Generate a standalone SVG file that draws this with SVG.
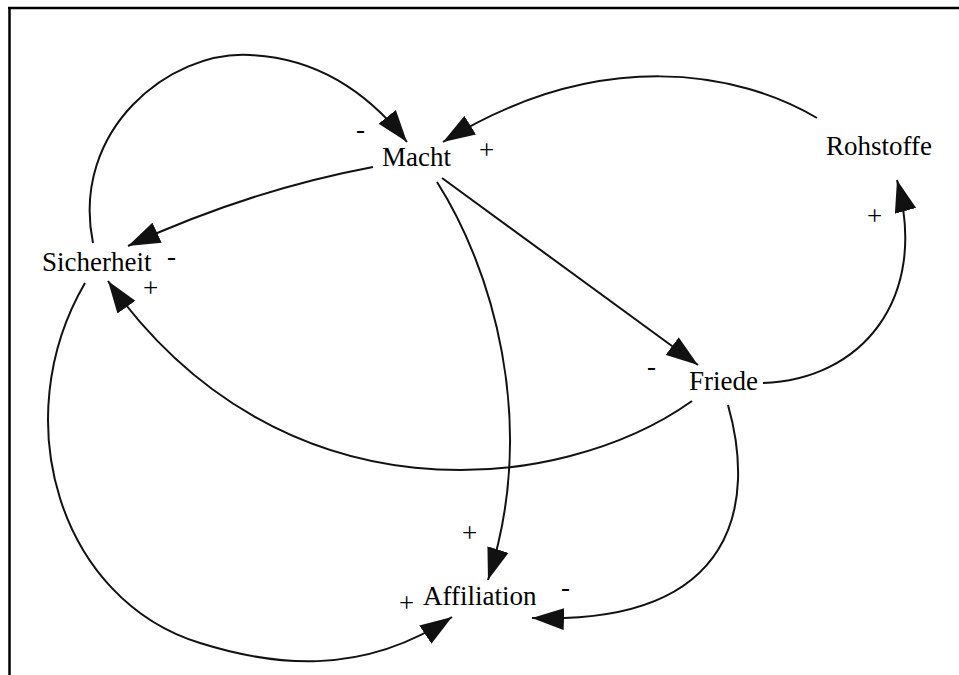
<svg xmlns="http://www.w3.org/2000/svg" width="959" height="675" viewBox="0 0 959 675">
  <style>
    .frame { stroke: #000; stroke-width: 2.5; fill: none; }
    .edge { stroke: #111; stroke-width: 2; fill: none; marker-end: url(#head); }
    .label { font-family: "Liberation Serif", "Times New Roman", serif; font-size: 27px; fill: #000; }
    .sign { font-family: "Liberation Serif", "Times New Roman", serif; font-size: 27px; fill: #000; }
  </style>
  <defs>
    <marker id="head" markerUnits="userSpaceOnUse" markerWidth="32" markerHeight="22" viewBox="0 0 32 22" refX="32" refY="11" orient="auto">
      <path d="M0,0 L32,11 L0,22 z" fill="#111"/>
    </marker>
  </defs>
  <rect width="959" height="675" fill="#fff"/>
  <!-- frame: top and left edges -->
  <path class="frame" d="M8,8 H959 M9.5,7 V675"/>

  <g id="connectors">
    <!-- Sicherheit -> Macht (-) -->
    <path class="edge" d="M93,243 C 70,130 170,50 250,55 C 320,58 370,95 407,142"/>
    <!-- Rohstoffe -> Macht (+) -->
    <path class="edge" d="M817,118 C 740,72 600,45 443,142"/>
    <!-- Macht -> Sicherheit (-) -->
    <path class="edge" d="M373,167 Q 250,190 128,246"/>
    <!-- Friede -> Sicherheit (+) -->
    <path class="edge" d="M692,401 C 560,495 280,525 108,281"/>
    <!-- Macht -> Friede (-) -->
    <path class="edge" d="M442,178 L698,365"/>
    <!-- Macht -> Affiliation (+) -->
    <path class="edge" d="M437,182 C 490,265 540,420 488,580"/>
    <!-- Friede -> Rohstoffe (+) -->
    <path class="edge" d="M763,383 C 860,380 930,300 897,180"/>
    <!-- Friede -> Affiliation (-) -->
    <path class="edge" d="M728,405 C 755,500 740,625 532,618"/>
    <!-- Sicherheit -> Affiliation (+) -->
    <path class="edge" d="M85,283 C 5,420 60,600 200,643 C 270,665 360,678 452,617"/>
  </g>

  <g id="signs">
    <text class="sign" x="356" y="138">-</text>
    <text class="sign" x="479" y="159">+</text>
    <text class="sign" x="167" y="265">-</text>
    <text class="sign" x="143" y="297">+</text>
    <text class="sign" x="647" y="375">-</text>
    <text class="sign" x="867" y="225">+</text>
    <text class="sign" x="462" y="542">+</text>
    <text class="sign" x="399" y="612">+</text>
    <text class="sign" x="561" y="596">-</text>
  </g>

  <g id="node-macht"><text class="label" x="382" y="166">Macht</text></g>
  <g id="node-sicherheit"><text class="label" x="42" y="271">Sicherheit</text></g>
  <g id="node-rohstoffe"><text class="label" x="826" y="155">Rohstoffe</text></g>
  <g id="node-friede"><text class="label" x="689" y="390">Friede</text></g>
  <g id="node-affiliation"><text class="label" x="423" y="605">Affiliation</text></g>
</svg>
